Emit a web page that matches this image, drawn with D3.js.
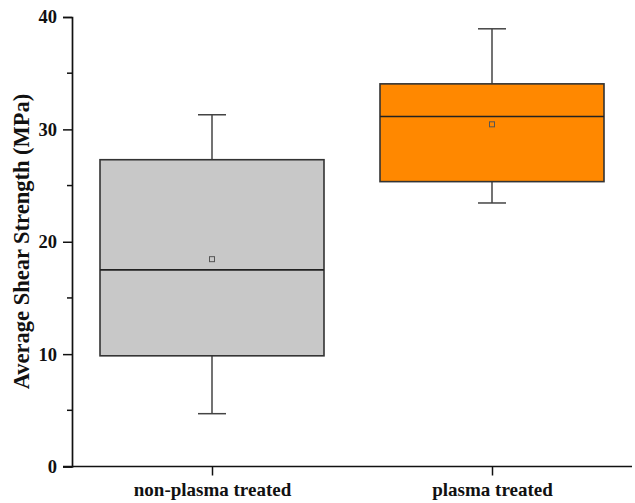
<!DOCTYPE html>
<html>
<head>
<meta charset="utf-8">
<script src="https://cdn.jsdelivr.net/npm/d3@7"></script>
<style>
  body { margin: 0; background: #fff; }
  svg text { font-family: "Liberation Serif", "Times New Roman", serif; font-weight: bold; fill: #111; }
</style>
</head>
<body>
<svg id="chart" width="635" height="503"></svg>
<script>
const groups = ['non-plasma treated', 'plasma treated'];
const whiskerLow = [4.7, 23.45];
const q1 = [9.85, 25.35];
const median = [17.5, 31.15];
const q3 = [27.3, 34.05];
const whiskerHigh = [31.3, 38.95];
const means = [18.45, 30.45];
const fills = ['#c8c8c8', '#ff8800'];
const yTicks = [0, 10, 20, 30, 40];

const margin = { top: 17, right: 3, bottom: 36.5, left: 72 };
const width = 635, height = 503;

const svg = d3.select('#chart');

const x = d3.scalePoint()
  .domain(groups)
  .range([margin.left, width - margin.right])
  .padding(0.5);

const y = d3.scaleLinear()
  .domain([0, 40])
  .range([height - margin.bottom, margin.top]);

const boxW = x.step() * 0.8;
const capW = 28;

// boxes
groups.forEach((g, i) => {
  const cx = x(g);
  const gg = svg.append('g');
  // whiskers
  gg.append('line')
    .attr('x1', cx).attr('x2', cx)
    .attr('y1', y(whiskerHigh[i])).attr('y2', y(q3[i]))
    .attr('stroke', '#444').attr('stroke-width', 1.5);
  gg.append('line')
    .attr('x1', cx).attr('x2', cx)
    .attr('y1', y(q1[i])).attr('y2', y(whiskerLow[i]))
    .attr('stroke', '#444').attr('stroke-width', 1.5);
  [whiskerHigh[i], whiskerLow[i]].forEach(v => {
    gg.append('line')
      .attr('x1', cx - capW / 2).attr('x2', cx + capW / 2)
      .attr('y1', y(v)).attr('y2', y(v))
      .attr('stroke', '#444').attr('stroke-width', 1.5);
  });
  // box
  gg.append('rect')
    .attr('x', cx - boxW / 2)
    .attr('y', y(q3[i]))
    .attr('width', boxW)
    .attr('height', y(q1[i]) - y(q3[i]))
    .attr('fill', fills[i])
    .attr('stroke', '#333')
    .attr('stroke-width', 1.6);
  // median
  gg.append('line')
    .attr('x1', cx - boxW / 2).attr('x2', cx + boxW / 2)
    .attr('y1', y(median[i])).attr('y2', y(median[i]))
    .attr('stroke', '#222').attr('stroke-width', 1.6);
  // mean
  gg.append('rect')
    .attr('x', cx - 2.5).attr('y', y(means[i]) - 2.5)
    .attr('width', 5).attr('height', 5)
    .attr('fill', 'none')
    .attr('stroke', '#555')
    .attr('stroke-width', 1);
});

// y axis
const yAxis = svg.append('g')
  .attr('transform', `translate(${margin.left},0)`)
  .call(d3.axisLeft(y).tickValues(yTicks).tickSize(9).tickPadding(6));
yAxis.select('.domain').attr('stroke', '#111').attr('stroke-width', 1.7);
yAxis.selectAll('.tick line').attr('stroke', '#111').attr('stroke-width', 1.5);
yAxis.selectAll('.tick text').attr('font-size', 18.5);

// minor ticks
svg.append('g').selectAll('line')
  .data([5, 15, 25, 35])
  .join('line')
  .attr('x1', margin.left - 5).attr('x2', margin.left)
  .attr('y1', d => y(d)).attr('y2', d => y(d))
  .attr('stroke', '#111').attr('stroke-width', 1.5);

// x axis
const xAxis = svg.append('g')
  .attr('transform', `translate(0,${y(0)})`)
  .call(d3.axisBottom(x).tickSizeOuter(0).tickSize(9).tickPadding(7));
xAxis.select('.domain').attr('stroke', '#111').attr('stroke-width', 1.7)
  .attr('d', `M${margin.left - 9},0H${width - margin.right}`);
xAxis.selectAll('.tick line').attr('stroke', '#111').attr('stroke-width', 1.5);
xAxis.selectAll('.tick text').attr('font-size', 19);

// y title
svg.append('text')
  .attr('transform', `translate(29,241.5) rotate(-90)`)
  .attr('text-anchor', 'middle')
  .attr('font-size', 22.5)
  .text('Average Shear Strength (MPa)');
</script>
</body>
</html>
